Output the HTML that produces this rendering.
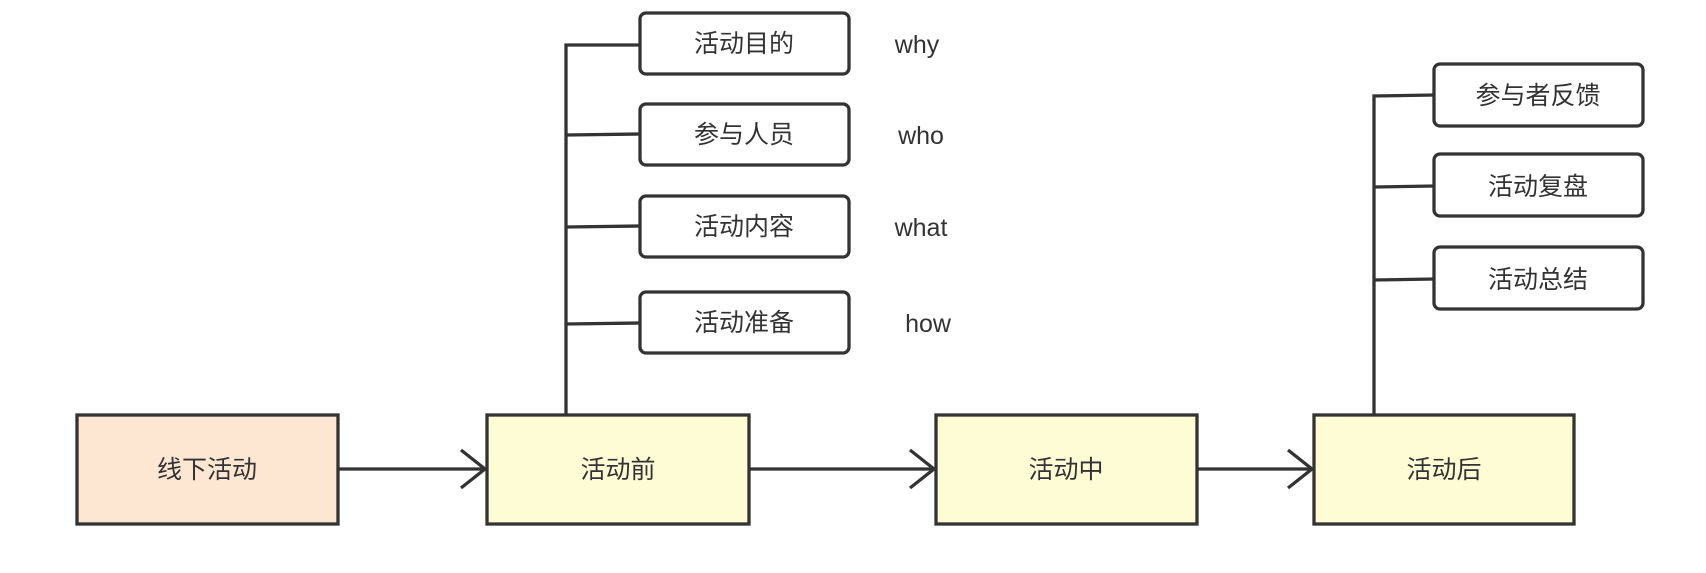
<!DOCTYPE html>
<html><head><meta charset="utf-8"><style>
body{margin:0;background:#fff;}
svg text{font-family:"Liberation Sans","Noto Sans CJK SC",sans-serif;fill:#333;font-size:25px;text-anchor:middle;dominant-baseline:central;}
</style></head><body>
<svg width="1706" height="568" viewBox="0 0 1706 568" xmlns="http://www.w3.org/2000/svg">
<g stroke="#333" stroke-width="3.3" fill="none">
<polyline points="566,414 566,45 640,45"/>
<line x1="566" y1="135" x2="640" y2="134"/>
<line x1="566" y1="227" x2="640" y2="226"/>
<line x1="566" y1="324" x2="640" y2="323"/>
<polyline points="1374,414 1374,96 1434,95"/>
<line x1="1374" y1="187" x2="1434" y2="186"/>
<line x1="1374" y1="280" x2="1434" y2="279"/>
<line x1="338" y1="469" x2="485" y2="469"/>
<polyline points="461,450 485,469 461,488"/>
<line x1="749" y1="469" x2="934" y2="469"/>
<polyline points="910,450 934,469 910,488"/>
<line x1="1197" y1="469" x2="1312" y2="469"/>
<polyline points="1288,450 1312,469 1288,488"/>
</g>
<g stroke="#333" stroke-width="3.3">
<rect x="77" y="415" width="261" height="109" fill="#fde6d2"/>
<rect x="487" y="415" width="262" height="109" fill="#fefcd4"/>
<rect x="936" y="415" width="261" height="109" fill="#fefcd4"/>
<rect x="1314" y="415" width="260" height="109" fill="#fefcd4"/>
<rect x="640" y="13" width="209" height="61" rx="6" fill="#fff"/>
<rect x="640" y="104" width="209" height="61" rx="6" fill="#fff"/>
<rect x="640" y="196" width="209" height="61" rx="6" fill="#fff"/>
<rect x="640" y="292" width="209" height="61" rx="6" fill="#fff"/>
<rect x="1434" y="64" width="209" height="62" rx="6" fill="#fff"/>
<rect x="1434" y="154" width="209" height="62" rx="6" fill="#fff"/>
<rect x="1434" y="247" width="209" height="62" rx="6" fill="#fff"/>
</g>
<text x="207" y="470">线下活动</text>
<text x="618" y="470">活动前</text>
<text x="1066" y="470">活动中</text>
<text x="1444" y="470">活动后</text>
<text x="744" y="44">活动目的</text>
<text x="744" y="135">参与人员</text>
<text x="744" y="227">活动内容</text>
<text x="744" y="323">活动准备</text>
<text x="1538" y="96">参与者反馈</text>
<text x="1538" y="187">活动复盘</text>
<text x="1538" y="280">活动总结</text>
<text x="917" y="45">why</text>
<text x="921" y="136">who</text>
<text x="921" y="228">what</text>
<text x="928" y="324">how</text>
</svg>
</body></html>
